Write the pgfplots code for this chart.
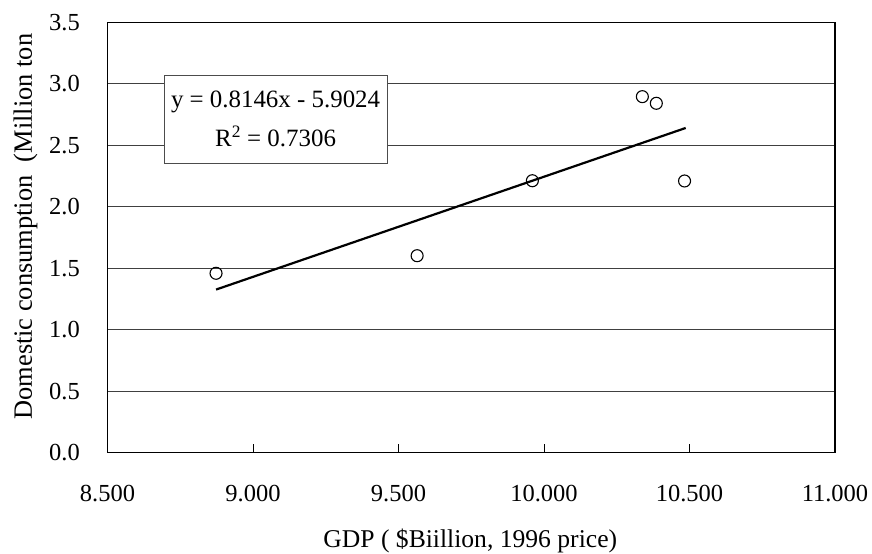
\documentclass[border=0pt]{standalone}
\usepackage{pgfplots}
\pgfplotsset{compat=1.18}
\usepackage{fontspec}
\setmainfont{Liberation Serif}
\begin{document}
\begin{tikzpicture}
\begin{axis}[
  scale only axis, width=727.5bp, height=430.2bp,
  xmin=8.5, xmax=11, ymin=0, ymax=3.5,
  xtick={8.5,9,9.5,10,10.5,11},
  ytick={0,0.5,1,1.5,2,2.5,3,3.5},
  scaled x ticks=false, scaled y ticks=false,
  axis line style={black, line width=1.2bp},
  ymajorgrids, major grid style={black!75, line width=1bp},
  xtick pos=bottom, ytick pos=left,
  tick align=inside,
  xtick style={black, line width=1bp},
  major tick length=8bp,
  ytick style={draw=none},
  tick label style={font=\fontsize{24.6}{29}\selectfont},
  xticklabel style={yshift=-33bp, inner sep=0pt, /pgf/number format/.cd, fixed, fixed zerofill, precision=3, assume math mode=true},
  yticklabel style={xshift=-27.5bp, inner sep=0pt, /pgf/number format/.cd, fixed, fixed zerofill, precision=1, assume math mode=true},
  xlabel={GDP ( \$Biillion, 1996 price)},
  xlabel style={at={(axis description cs:0.4987,-0.2213)}, anchor=base, inner sep=0pt, font=\fontsize{25.7}{30}\selectfont},
  ylabel={Domestic consumption\ \ (Million ton},
  ylabel style={at={(axis description cs:-0.1040,0.525)}, rotate=0, anchor=base, inner sep=0pt, font=\fontsize{26.5}{30}\selectfont},
]
\addplot[only marks, mark=o, mark size=6bp, mark options={line width=1.1bp, black}]
  coordinates {(8.873,1.458) (9.564,1.601) (9.960,2.211) (10.338,2.895) (10.386,2.841) (10.483,2.209)};
\addplot[black, line width=2.2bp] coordinates {(8.873,1.3255) (10.487,2.6403)};
\node[draw=black!70, fill=white, line width=1bp, minimum width=223bp, minimum height=88bp,
      align=center, inner sep=0pt, font=\fontsize{25}{39}\selectfont]
  at (axis cs:9.0776,2.712) {y = 0.8146x - 5.9024\\R\textsuperscript{2} = 0.7306};
\end{axis}
\path ([shift={(-107.5bp,-98.5bp)}]current axis.south west) rectangle ([shift={(37bp,22.3bp)}]current axis.north east);
\end{tikzpicture}
\end{document}
